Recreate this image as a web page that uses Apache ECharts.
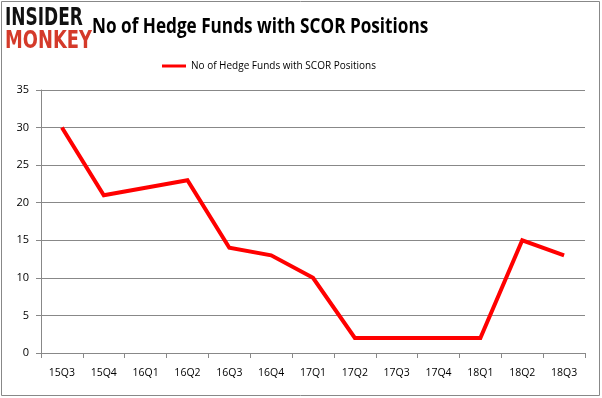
<!DOCTYPE html>
<html>
<head>
<meta charset="utf-8">
<script src="https://cdn.jsdelivr.net/npm/echarts@6/dist/echarts.min.js"></script>
<style>
  html, body { margin: 0; padding: 0; background: #fff; }
  #chart { width: 602px; height: 398px; }
</style>
</head>
<body>
<div id="chart"></div>
<script>
  const quarters = ['15Q3', '15Q4', '16Q1', '16Q2', '16Q3', '16Q4', '17Q1', '17Q2', '17Q3', '17Q4', '18Q1', '18Q2', '18Q3'];
  const fundCounts = [30, 21, 22, 23, 14, 13, 10, 2, 2, 2, 2, 15, 13];
  const seriesName = 'No of Hedge Funds with SCOR Positions';

  const chart = echarts.init(document.getElementById('chart'));
  chart.setOption({
    animation: false,
    backgroundColor: '#fff',
    graphic: [
      {
        type: 'rect',
        shape: { x: 1.5, y: 1.5, width: 598, height: 394 },
        style: { fill: 'none', stroke: '#888', lineWidth: 1 },
      },
      {
        type: 'text',
        x: 5, y: 6, scaleX: 0.68,
        style: { text: 'INSIDER', fill: '#111', font: '900 25px "DejaVu Sans"' },
      },
      {
        type: 'text',
        x: 5, y: 29, scaleX: 0.715,
        style: { text: 'MONKEY', fill: '#d43a2a', font: '900 25px "DejaVu Sans"' },
      },
      {
        type: 'text',
        x: 92, y: 16, scaleX: 0.78,
        style: { text: 'No of Hedge Funds with SCOR Positions', fill: '#000', font: 'bold 22px "Open Sans"' },
      },
    ],
    legend: {
      top: 56,
      left: 157,
      itemWidth: 24,
      itemHeight: 3,
      itemGap: 4,
      icon: 'rect',
      textStyle: { fontFamily: 'Open Sans', fontSize: 10, color: '#000' },
      data: [seriesName],
    },
    grid: { left: 41, right: 17, top: 90, bottom: 45, containLabel: false },
    xAxis: {
      type: 'category',
      data: quarters,
      boundaryGap: true,
      axisLine: { lineStyle: { color: '#888' } },
      axisTick: { show: true, lineStyle: { color: '#888' }, length: 5 },
      axisLabel: { color: '#000', fontFamily: 'Open Sans', fontSize: 10.5, margin: 15 },
    },
    yAxis: {
      type: 'value',
      min: 0,
      max: 35,
      interval: 5,
      axisLine: { show: true, lineStyle: { color: '#888' } },
      axisTick: { show: true, lineStyle: { color: '#888' }, length: 5 },
      axisLabel: { color: '#000', fontFamily: 'Open Sans', fontSize: 11, margin: 12 },
      splitLine: { lineStyle: { color: '#888' } },
    },
    series: [
      {
        name: seriesName,
        type: 'line',
        data: fundCounts,
        showSymbol: false,
        symbol: 'none',
        lineStyle: { color: '#ff0000', width: 4, join: 'miter' },
        itemStyle: { color: '#ff0000' },
      },
    ],
  });
</script>
</body>
</html>
